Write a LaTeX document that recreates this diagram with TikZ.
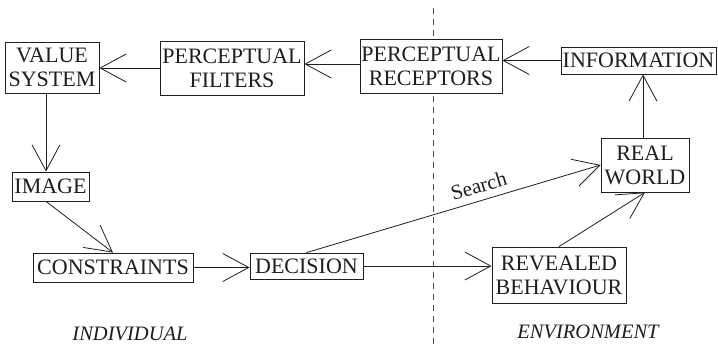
\documentclass[tikz,border=0pt]{standalone}
\usepackage{fontspec}
\setmainfont{Liberation Serif}
\usetikzlibrary{arrows.meta}
\definecolor{ink}{RGB}{30,30,30}
\begin{document}
\begin{tikzpicture}[x=1pt,y=-1pt,
  box/.style={draw=ink, line width=0.8pt, fill=white, inner sep=0pt, align=center,
    font=\fontsize{22}{24}\selectfont, text=ink},
  arr/.style={draw=ink, line width=0.8pt, -{Straight Barb[length=26pt,width=28pt,line width=0.8pt]}},
  divider/.style={draw=ink!80, line width=0.7pt, dash pattern=on 6pt off 5pt},
  side/.style={font=\fontsize{20.5}{24}\selectfont\itshape, text=ink, anchor=base}]
\useasboundingbox (0,0) rectangle (718,344);

% boundary between individual and environment
\coordinate (divtop) at (433,8);
\coordinate (divbot) at (433,344);
\draw[divider] (divtop) -- (divbot);

% boxes
\node[box, minimum width=94pt,  minimum height=51pt] (VS)   at (52,67.5)   {VALUE\\SYSTEM};
\node[box, minimum width=144pt, minimum height=54pt] (PF)   at (232,68)    {PERCEPTUAL\\FILTERS};
\node[box, minimum width=142pt, minimum height=54pt] (PR)   at (431,66)    {PERCEPTUAL\\RECEPTORS};
\node[box, minimum width=155pt, minimum height=27pt] (INFO) at (638.5,60.5) {INFORMATION};
\node[box, minimum width=88pt,  minimum height=54pt] (RW)   at (645,165)   {REAL\\WORLD};
\node[box, minimum width=77pt,  minimum height=29pt] (IMG)  at (50.5,186.5) {IMAGE};
\node[box, minimum width=160pt, minimum height=29pt] (CON)  at (113,267.5) {CONSTRAINTS};
\node[box, minimum width=113pt, minimum height=26pt] (DEC)  at (306.5,266) {DECISION};
\node[box, minimum width=134pt, minimum height=56pt] (RB)   at (559,275)   {REVEALED\\BEHAVIOUR};

% connectors
\draw[arr] (PF.west) -- (PF.west -| VS.east);
\draw[arr] ([yshift=2pt]PR.west) -- ([yshift=2pt]PR.west -| PF.east);
\draw[arr] (INFO.west) -- (INFO.west -| PR.east);
\draw[arr] ([xshift=-2pt]RW.north) -- ([xshift=-2pt]RW.north |- INFO.south);
\draw[arr] ([xshift=-6pt]VS.south) -- ([xshift=-6pt]VS.south |- IMG.north);
\draw[arr] ([xshift=-4.5pt]IMG.south) -- (CON.north);
\draw[arr] (CON.east) -- (CON.east -| DEC.west);
\draw[arr] (DEC.east) -- (DEC.east -| RB.west);
\draw[arr] (DEC.north) -- (RW.west)
  node[pos=0.6, sloped, above=7pt, inner sep=0pt, font=\fontsize{21}{24}\selectfont, text=ink] (searchlbl) {Search};
\draw[arr] (RB.north) -- (RW.south);

% side labels
\node[side] (indiv) at (130,341) {INDIVIDUAL};
\node[side] (envir) at (588,339) {ENVIRONMENT};
\end{tikzpicture}
\end{document}
